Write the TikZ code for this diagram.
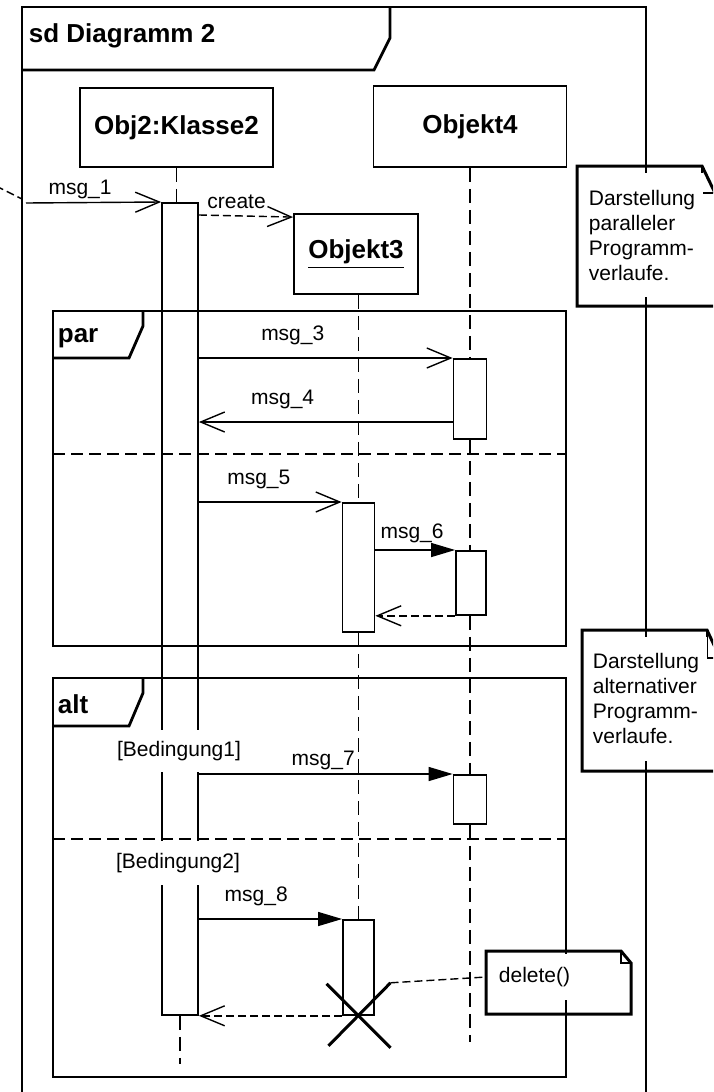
\documentclass[tikz,border=0pt]{standalone}
\usepackage{fontspec}
\setmainfont{Liberation Sans}
\usetikzlibrary{arrows.meta}

\begin{document}
\begin{tikzpicture}[x=0.5pt,y=-0.5pt,line width=0.9pt,
  font=\fontsize{10.5}{12.5}\selectfont,
  outerframe/.style={line width=1pt},
  tabline/.style={line width=1.4pt},
  notebox/.style={line width=1.5pt},
  boldlabel/.style={font=\fontsize{13}{15.5}\selectfont\bfseries},
  objbox/.style={draw,inner sep=0pt,boldlabel},
  actbox/.style={draw,inner sep=0pt,anchor=north},
  lifeline/.style={dash pattern=on 7pt off 3.5pt},
  call/.style={line width=0.7pt,-{Straight Barb[length=12pt,width=10pt]}},
  sync/.style={line width=0.7pt,-{Triangle[length=12pt,width=7pt]}},
  reply/.style={line width=0.7pt,dash pattern=on 4pt off 2pt,-{Straight Barb[length=12pt,width=10pt]}},
  guard/.style={fill=white,inner xsep=1pt,inner ysep=0pt},
  notetext/.style={fill=white,align=left,anchor=west,inner xsep=4pt,inner ysep=0pt,minimum height=62pt}
]
  \useasboundingbox (0,0) rectangle (713,1092);
  \clip (0,0) rectangle (713,1092);

  \draw[outerframe] (22,1100) -- (22,7) -- (646,7) -- (646,1100);
  \draw[tabline] (22,70) -- (374,70) -- (390,38) -- (390,7);
  \node[boldlabel,anchor=west,inner sep=2pt] (title) at (24,36) {sd Diagramm 2};

  \node[objbox,minimum width=96.5pt,minimum height=39.5pt] (obj2) at (176.5,127.5) {Obj2:Klasse2};
  \node[objbox,minimum width=96.5pt,minimum height=40.5pt] (obj4) at (470,126.5) {Objekt4};
  \node[objbox,minimum width=62pt,minimum height=40pt] (obj3) at (356,254) {\underline{Objekt3}};

  \draw[outerframe] (53,311) rectangle (566,646);
  \draw[tabline] (53,358) -- (129,358) -- (143,326) -- (143,311);
  \node[boldlabel,anchor=west,inner sep=0pt] (par) at (57,338) {par};
  \draw[outerframe,dash pattern=on 6pt off 3pt] (53,454) -- (566,454);

  \draw[outerframe] (53,678) rectangle (566,1077);
  \draw[tabline] (53,726) -- (129,726) -- (143,693) -- (143,678);
  \node[boldlabel,anchor=west,inner sep=0pt] (alt) at (57,704) {alt};
  \draw[outerframe,dash pattern=on 6pt off 3pt] (53,839) -- (566,839);

  \node[actbox,minimum width=18pt,minimum height=406pt] (act2) at (180,202) {};
  \node[actbox,minimum width=16.5pt,minimum height=40pt] (act4a) at (470,358) {};
  \node[actbox,minimum width=16pt,minimum height=64.5pt] (act3a) at (358.5,502) {};
  \node[actbox,minimum width=15pt,minimum height=32pt] (act4b) at (471,550) {};
  \node[actbox,minimum width=16.5pt,minimum height=24.5pt] (act4c) at (470,774) {};
  \node[actbox,minimum width=15.5pt,minimum height=47.5pt] (act3b) at (358.5,919) {};

  \draw[lifeline] (obj2.south) -- (obj2.south |- act2.north);
  \draw[lifeline] (act2.south) -- ++(0,48);
  \draw[lifeline] (obj3.south -| act3a.north) -- (act3a.north);
  \draw[lifeline] (act3a.south) -- (act3b.north);
  \draw[lifeline] (obj4.south) -- (act4a.north);
  \draw[lifeline] (act4a.south) -- (act4a.south |- act4b.north);
  \draw[lifeline] (act4a.south |- act4b.south) -- (act4c.north);
  \draw[lifeline] (act4c.south) -- ++(0,217);

  \coordinate (gatein) at (22,199);
  \coordinate (gate) at (26,203);
  \draw[line width=0.7pt,dash pattern=on 4pt off 2pt] (-4,186) -- (gatein);
  \draw[call] (gate) -- (act2.north west) node[pos=0.4,above,inner sep=1.5pt] {msg\_1};
  \draw[reply] ([yshift=-6.5pt]act2.north east) -- ([yshift=-2pt]obj3.north west) node[pos=0.4,above] {create};

  \draw[call] (act2.east |- act4a.north west) -- (act4a.north west) node[pos=0.37,above=3pt] {msg\_3};
  \coordinate (m4) at ([yshift=-32pt]act4a.north west);
  \draw[call] (m4) -- (act2.east |- m4) node[pos=0.67,above=3pt] {msg\_4};
  \draw[call] (act2.east |- act3a.north west) -- (act3a.north west) node[pos=0.42,above=3pt] {msg\_5};
  \draw[sync] (act3a.east |- act4b.north west) -- (act4b.north west) node[pos=0.46,above] {msg\_6};
  \draw[reply] (act4b.south west) -- (act3a.east |- act4b.south west);

  \node[guard,minimum height=21pt] (cond1) at (179,751) {[Bedingung1]};
  \node[guard,minimum height=22pt] (cond2) at (178,863) {[Bedingung2]};

  \draw[sync] (act2.east |- act4c.north west) -- (act4c.north west) node[pos=0.49,above,inner sep=1.5pt] {msg\_7};
  \draw[sync] (act2.east |- act3b.north west) -- (act3b.north west) node[pos=0.4,above=3pt] {msg\_8};
  \draw[reply] (act3b.south west) -- (act2.south east);

  \coordinate (kill) at (act3b.south);
  \draw[line width=1.5pt] ([shift={(-32,-32)}]kill) -- ([shift={(32,32)}]kill);
  \draw[line width=1.5pt] ([shift={(-30,30)}]kill) -- ([shift={(32,-33)}]kill) coordinate (killarm);

  \draw[line width=0.9pt] (621,951) -- (621,963) -- (631,963);
  \node[fill=white,anchor=west,inner xsep=1pt,inner ysep=0pt,minimum height=23pt] (deltext) at (496,977) {delete()};
  \draw[notebox] (486,951) -- (621,951) -- (631,963) -- (631,1014) -- (486,1014) -- cycle;
  \coordinate (delnote) at (486,977);
  \draw[line width=0.7pt,dash pattern=on 4pt off 2pt] (killarm) -- (delnote);

  \draw[line width=0.9pt] (702,166) -- (702,193) -- (715,193);
  \node[notetext] (note1) at (580,235) {Darstellung\\paralleler\\Programm-\\verlaufe.};
  \draw[notebox] (577,166) -- (702,166) -- (715,193) -- (715,306) -- (577,306) -- cycle;

  \draw[line width=0.9pt] (707,630) -- (707,658) -- (720,658);
  \node[notetext] (note2) at (584,698.5) {Darstellung\\alternativer\\Programm-\\verlaufe.};
  \draw[notebox] (582,630) -- (707,630) -- (720,658) -- (720,771) -- (582,771) -- cycle;
\end{tikzpicture}
\end{document}
